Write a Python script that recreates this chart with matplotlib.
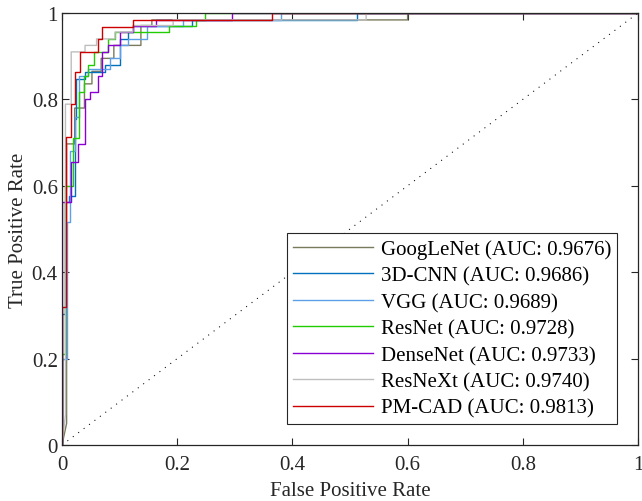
import matplotlib
matplotlib.use("Agg")
import matplotlib.pyplot as plt

plt.rcParams['font.family'] = ['Liberation Serif', 'DejaVu Serif']
plt.rcParams['font.size'] = 15

# ROC curve vertices (false positive rate, true positive rate) per model
googlenet_fpr = [0, 0.008, 0.008, 0.022, 0.022, 0.039, 0.039, 0.052, 0.052, 0.068, 0.068, 0.09, 0.09, 0.137, 0.137, 0.156, 0.156, 0.60, 0.60, 1]
googlenet_tpr = [0, 0.05, 0.697, 0.697, 0.78, 0.78, 0.836, 0.836, 0.865, 0.865, 0.895, 0.895, 0.925, 0.925, 0.971, 0.971, 0.984, 0.984, 1, 1]

cnn3d_fpr = [0, 0, 0.006, 0.006, 0.012, 0.012, 0.0226, 0.0226, 0.025, 0.025, 0.040, 0.040, 0.075, 0.075, 0.100, 0.100, 0.115, 0.115, 0.123, 0.123, 0.225, 0.225, 0.512, 0.512, 1]
cnn3d_tpr = [0, 0.303, 0.303, 0.5625, 0.5625, 0.576, 0.576, 0.755, 0.755, 0.847, 0.847, 0.863, 0.863, 0.88, 0.88, 0.94, 0.94, 0.956, 0.956, 0.971, 0.971, 0.984, 0.984, 1, 1]

vgg_fpr = [0, 0, 0.008, 0.008, 0.014, 0.014, 0.022, 0.022, 0.03, 0.03, 0.045, 0.045, 0.083, 0.083, 0.10, 0.10, 0.115, 0.115, 0.147, 0.147, 0.21, 0.21, 0.38, 0.38, 1]
vgg_tpr = [0, 0.2, 0.2, 0.516, 0.516, 0.68, 0.68, 0.76, 0.76, 0.855, 0.855, 0.87, 0.87, 0.895, 0.895, 0.925, 0.925, 0.94, 0.94, 0.971, 0.971, 0.984, 0.984, 1, 1]

resnet_fpr = [0, 0, 0.005, 0.005, 0.019, 0.019, 0.03, 0.03, 0.039, 0.039, 0.045, 0.045, 0.055, 0.055, 0.08, 0.08, 0.092, 0.092, 0.185, 0.185, 0.233, 0.233, 0.248, 0.248, 1]
resnet_tpr = [0, 0.21, 0.21, 0.6, 0.6, 0.71, 0.71, 0.818, 0.818, 0.855, 0.855, 0.88, 0.88, 0.91, 0.91, 0.94, 0.94, 0.956, 0.956, 0.971, 0.971, 0.984, 0.984, 1, 1]

densenet_fpr = [0, 0, 0.015, 0.015, 0.028, 0.028, 0.040, 0.040, 0.048, 0.048, 0.062, 0.062, 0.069, 0.069, 0.08, 0.08, 0.10, 0.10, 0.123, 0.123, 0.163, 0.163, 0.295, 0.295, 1]
densenet_tpr = [0, 0.5625, 0.5625, 0.655, 0.655, 0.697, 0.697, 0.80, 0.80, 0.818, 0.818, 0.855, 0.855, 0.91, 0.91, 0.925, 0.925, 0.956, 0.956, 0.971, 0.971, 0.984, 0.984, 1, 1]

resnext_fpr = [0, 0.006, 0.006, 0.016, 0.016, 0.04, 0.04, 0.06, 0.06, 0.092, 0.092, 0.123, 0.123, 0.193, 0.193, 0.528, 0.528, 1]
resnext_tpr = [0, 0.07, 0.789, 0.789, 0.91, 0.91, 0.925, 0.925, 0.94, 0.94, 0.956, 0.956, 0.971, 0.971, 0.984, 0.984, 1, 1]

pmcad_fpr = [0, 0, 0.007, 0.007, 0.0156, 0.0156, 0.0226, 0.0226, 0.031, 0.031, 0.062, 0.062, 0.069, 0.069, 0.123, 0.123, 0.365, 0.365, 1]
pmcad_tpr = [0, 0.319, 0.319, 0.713, 0.713, 0.789, 0.789, 0.863, 0.863, 0.910, 0.910, 0.940, 0.940, 0.968, 0.968, 0.984, 0.984, 1, 1]

names = ['GoogLeNet', '3D-CNN', 'VGG', 'ResNet', 'DenseNet', 'ResNeXt', 'PM-CAD']
aucs = [0.9676, 0.9686, 0.9689, 0.9728, 0.9733, 0.9740, 0.9813]
colors = ['#7a7a5c', '#0072bd', '#5da0e8', '#22cc00', '#8a00d4', '#bebebe', '#cc0000']

curves = [(googlenet_fpr, googlenet_tpr), (cnn3d_fpr, cnn3d_tpr), (vgg_fpr, vgg_tpr),
          (resnet_fpr, resnet_tpr), (densenet_fpr, densenet_tpr),
          (resnext_fpr, resnext_tpr), (pmcad_fpr, pmcad_tpr)]

fig = plt.figure(figsize=(6.42, 5.02), dpi=100)
ax = fig.add_axes([62/642, 56/502, 576/642, 432/502])

for (fpr, tpr), name, auc, c in zip(curves, names, aucs, colors):
    ax.plot(fpr, tpr, color=c, lw=1.0, label='%s (AUC: %.4f)' % (name, auc))

# chance line
ax.plot([0, 1], [0, 1], color='black', lw=0.75, ls=(0, (1, 5.5)))

ax.set_xlim(0, 1)
ax.set_ylim(0, 1)
ticks = [0, 0.2, 0.4, 0.6, 0.8, 1]
ax.set_xticks(ticks)
ax.set_yticks(ticks)
ax.set_xticklabels(['0', '0.2', '0.4', '0.6', '0.8', '1'])
ax.set_yticklabels(['0', '0.2', '0.4', '0.6', '0.8', '1'])
ax.tick_params(direction='in', top=True, right=True, length=5, width=0.8,
               colors='#262626', labelsize=15, pad=3)
ax.tick_params(axis='x', pad=7)
for s in ax.spines.values():
    s.set_color('#262626')
    s.set_linewidth(0.9)

ax.set_xlabel('False Positive Rate', fontsize=15, color='#262626', labelpad=5)
ax.set_ylabel('True Positive Rate', fontsize=15, color='#262626', labelpad=3)

leg = ax.legend(loc='lower right', fontsize=15, frameon=True, fancybox=False,
                edgecolor='#262626', framealpha=1, handlelength=3.85,
                handletextpad=0.35, labelspacing=0.33, borderpad=0.3,
                borderaxespad=1.0)
leg.get_frame().set_linewidth(0.8)

fig.savefig('out.png', dpi=100)
